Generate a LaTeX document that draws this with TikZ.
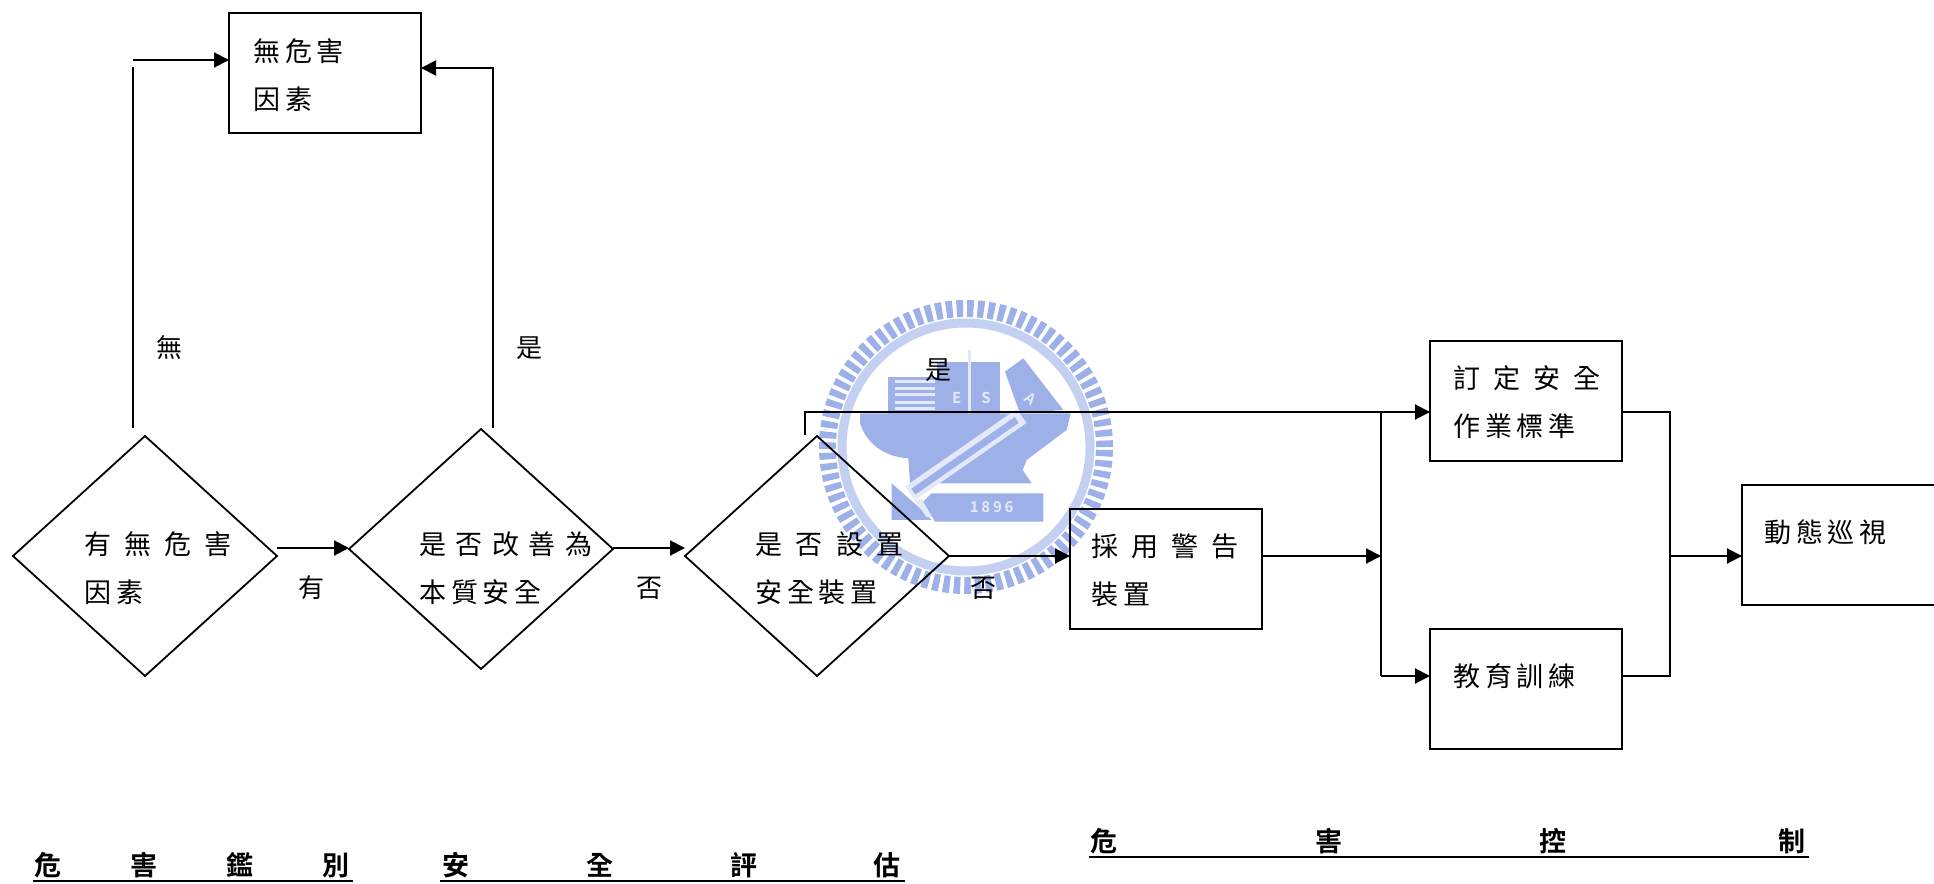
\documentclass[tikz,border=0pt]{standalone}
\usepackage{fontspec}
\usetikzlibrary{shapes.geometric,arrows.meta}
\setmainfont{Noto Sans CJK TC}[BoldFont={Noto Sans CJK TC Bold}]
\definecolor{wm}{HTML}{9DB0E8}
\definecolor{wmp}{HTML}{E4E9F9}
\newcommand{\LS}[2]{{\addfontfeature{LetterSpace=#1}#2}}
\tikzset{
  ln/.style={draw=black,line width=2pt},
  arr/.style={ln,-{Triangle[length=15pt,width=15pt]}},
  boxn/.style={rectangle,draw=black,line width=2pt,inner sep=0pt,outer sep=0pt,anchor=north west},
  dia/.style={diamond,draw=black,line width=1.8pt,inner sep=0pt,outer sep=0pt,aspect=1.1},
  txt/.style={anchor=west,inner sep=0pt,align=left,font=\fontsize{27}{48}\selectfont},
  lab/.style={inner sep=0pt,font=\fontsize{26}{30}\selectfont},
  ttl/.style={anchor=west,inner sep=0pt,font=\fontsize{27}{30}\selectfont\bfseries},
  sealtxt/.style={inner sep=0pt,text=wmp,font=\fontsize{15}{15}\selectfont\bfseries}
}
\begin{document}
\begin{tikzpicture}[x=1pt,y=-1pt]
\useasboundingbox (0,0) rectangle (1934,883);
% watermark seal
\node[circle,draw=wm,line width=17pt,dash pattern=on 6.5pt off 4pt,minimum size=277pt,inner sep=0pt,outer sep=0pt] (sealteeth) at (966,447) {};
\node[circle,draw=wm!60!white,line width=9pt,minimum size=248pt,inner sep=0pt,outer sep=0pt] (sealring) at (966,447) {};
\begin{scope}[shift={(860,330)},x=0.3333pt,y=-0.3333pt]
  % book
  \fill[wm] (85,140) rectangle (270,280);
  \foreach \yy in {150,170,190,212,232,258}{\fill[wmp] (105,\yy) rectangle (225,\yy+9);}
  % building
  \fill[wm] (230,95) rectangle (420,265);
  \fill[wmp] (324,60) rectangle (334,275);
  % tilted block
  \fill[wm] (435,125) -- (490,85) -- (610,240) -- (480,250) -- cycle;
  % anvil
  \fill[wm] (0,280) -- (0,250) -- (632,250) -- (620,300) -- (560,345) -- (500,390) -- (488,420) -- (515,460) -- (150,460) -- (145,385) .. controls (70,380) and (20,340) .. (0,280) -- cycle;
  % handle outline and core
  \draw[wmp,line width=17pt] (485,258) -- (150,490);
  \draw[wm,line width=7pt] (470,270) -- (160,485);
  % hammer head
  \fill[wm] (95,460) -- (175,530) -- (215,570) -- (95,570) -- cycle;
  \fill[wmp] (165,512) -- (185,505) -- (215,560) -- (200,562) -- cycle;
  % plate
  \fill[wm] (215,490) -- (550,490) -- (550,575) -- (225,575) -- (190,515) -- cycle;
  \node[sealtxt,font=\fontsize{15}{15}\selectfont\bfseries\addfontfeature{LetterSpace=18}] (sealyear) at (395,530) {1896};
  \node[sealtxt] (seals) at (378,205) {S};
  \node[sealtxt] (seale) at (290,205) {E};
  \node[sealtxt,rotate=-35] (seala) at (512,205) {A};
\end{scope}
% decisions
\node[dia,minimum width=264pt,minimum height=240pt] (d1) at (145,556) {};
\node[dia,minimum width=264pt,minimum height=240pt] (d2) at (481,549) {};
\node[dia,minimum width=264pt,minimum height=240pt] (d3) at (817,556) {};
% boxes
\node[boxn,minimum width=192pt,minimum height=120pt] (b0) at (229,13) {};
\node[boxn,minimum width=192pt,minimum height=120pt] (b2) at (1070,509) {};
\node[boxn,minimum width=192pt,minimum height=120pt] (b3) at (1430,341) {};
\node[boxn,minimum width=192pt,minimum height=120pt] (b4) at (1430,629) {};
\node[boxn,minimum width=193pt,minimum height=120pt] (b5) at (1742,485) {};
% box and diamond texts
\node[txt] (t0) at (253,75) {\LS{18}{無危害}\\\LS{18}{因素}};
\node[txt] (t1) at (84,568) {\LS{48}{有無危害}\\\LS{18}{因素}};
\node[txt] (t2) at (419,568) {\LS{35}{是否改善為}\\\LS{18}{本質安全}};
\node[txt] (t3) at (755,568) {\LS{50}{是否設置}\\\LS{18}{安全裝置}};
\node[txt] (t4) at (1091,570) {\LS{48}{採用警告}\\\LS{18}{裝置}};
\node[txt] (t5) at (1453,402) {\LS{48}{訂定安全}\\\LS{18}{作業標準}};
\node[txt] (t6) at (1453,676) {\LS{18}{教育訓練}};
\node[txt] (t7) at (1764,532) {\LS{18}{動態巡視}};
% free ends and junctions
\coordinate (n1top) at (133,428);
\coordinate (n1end) at (133,67);
\coordinate (n1start) at (133,60);
\coordinate (n2top) at (493,428);
\coordinate (n2turn) at (493,68);
\coordinate (n3top) at (805,435);
\coordinate (n3turn) at (805,412);
\coordinate (busT) at (1381,412);
\coordinate (busM) at (1381,556);
\coordinate (busB) at (1381,676);
\coordinate (outT) at (1670,412);
\coordinate (outM) at (1670,556);
\coordinate (outB) at (1670,676);
\coordinate (d1out) at (277,548);
\coordinate (d3in) at (685,548);
\coordinate (d3out) at (949,556);
% connectors
\draw[ln] (n1top) -- (n1end);
\draw[arr] (n1start) -- (b0.west |- n1start);
\draw[arr] (n2top) -- (n2turn) -- (b0.east |- n2turn);
\draw[arr] (d1out) -- (d2.west |- d1out);
\draw[arr] (d2.east |- d3in) -- (d3in);
\draw[arr] (d3out) -- (b2.west |- d3out);
\draw[arr] (n3top) -- (n3turn) -- (b3.west |- n3turn);
\draw[arr] (b2.east |- busM) -- (busM);
\draw[ln] (busT) -- (busB);
\draw[arr] (busB) -- (b4.west |- busB);
\draw[ln] (b3.east |- outT) -- (outT) -- (outB) -- (b4.east |- outB);
\draw[arr] (outM) -- (b5.west |- outM);
% branch labels
\node[lab] (l1) at (169,348) {無};
\node[lab] (l2) at (529,348) {是};
\node[lab] (l3) at (311,588) {有};
\node[lab] (l4) at (649,588) {否};
\node[lab] (l5) at (938,370) {是};
\node[lab] (l6) at (983,588) {否};
% phase titles
\node[ttl] (h1) at (34,865) {\LS{256}{危害鑑別}};
\node[ttl] (h2) at (442,865) {\LS{433}{安全評估}};
\node[ttl] (h3) at (1090.5,841) {危\hspace{198pt}害\hspace{197pt}控\hspace{212pt}制};
\coordinate (u1a) at (33,881); \coordinate (u1b) at (353,881);
\coordinate (u2a) at (440,881); \coordinate (u2b) at (905,881);
\coordinate (u3a) at (1089,857); \coordinate (u3b) at (1809,857);
\draw[ln] (u1a) -- (u1b);
\draw[ln] (u2a) -- (u2b);
\draw[ln] (u3a) -- (u3b);
\end{tikzpicture}
\end{document}
